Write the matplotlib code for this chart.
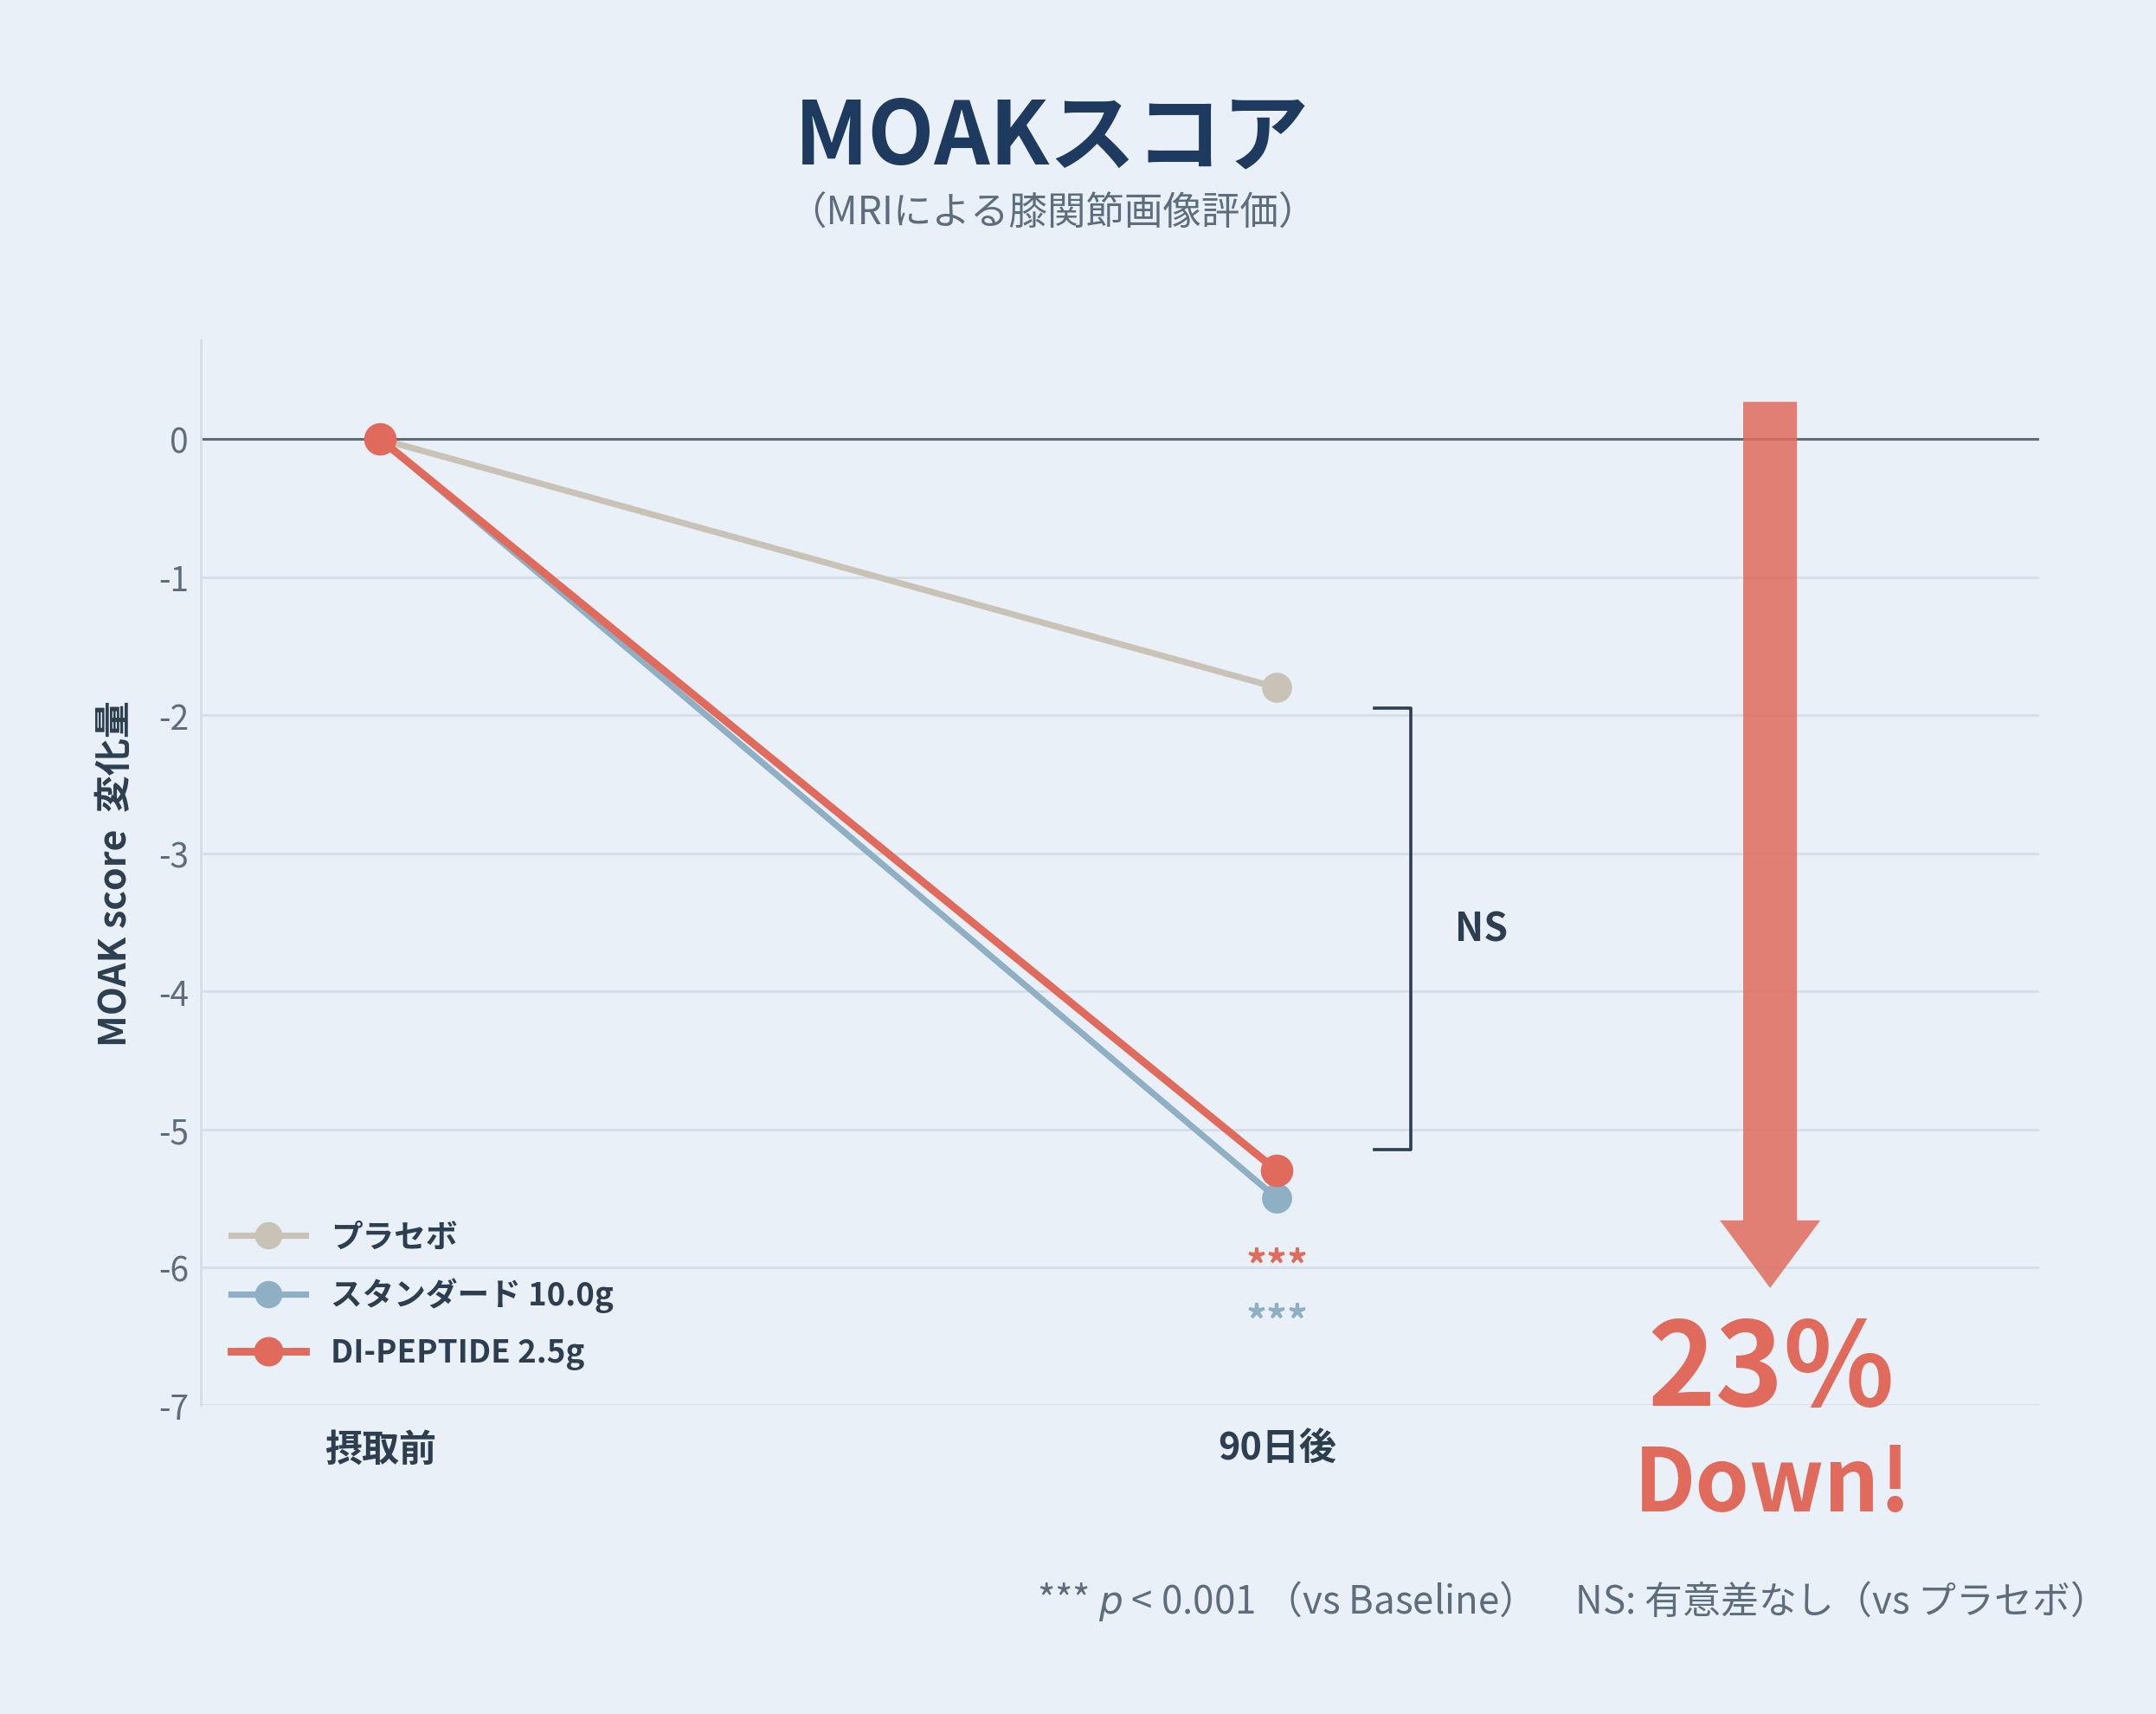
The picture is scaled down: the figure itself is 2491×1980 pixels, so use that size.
import matplotlib
matplotlib.use("Agg")
import matplotlib.pyplot as plt

plt.rcParams["font.family"] = ["Noto Sans CJK JP", "DejaVu Sans"]
plt.rcParams["mathtext.fontset"] = "dejavusans"

timepoints = ["摂取前", "90日後"]
groups = ["プラセボ", "スタンダード 10.0g", "DI-PEPTIDE 2.5g"]
placebo = [0, -1.8]
standard = [0, -5.5]
dipeptide = [0, -5.3]
reduction_pct = 23

BG = "#e9f0f7"
DARK = "#2c3e50"
GREY = "#5d6d7e"
GRID = "#d5dfe9"
C_PLA = "#c9c2b6"
C_STD = "#8fafc4"
C_DIP = "#e06b5d"

fig = plt.figure(figsize=(12.455, 9.905), dpi=200, facecolor=BG)
ax = fig.add_axes([0.0931, 0.180, 0.8527, 0.621], facecolor=BG)

x = list(range(len(timepoints)))
ax.plot(x, placebo, color=C_PLA, lw=2.6, marker="o", ms=11.5, label=groups[0], zorder=3)
ax.plot(x, standard, color=C_STD, lw=2.6, marker="o", ms=11.5, label=groups[1], zorder=4)
ax.plot(x, dipeptide, color=C_DIP, lw=3.2, marker="o", ms=12.5, label=groups[2], zorder=5)

ax.set_xlim(-0.2, 1.85)
ax.set_ylim(-7, 0.715)
ax.set_yticks(range(-7, 1))
ax.set_yticklabels([str(v) for v in range(-7, 1)])
ax.set_xticks(x)
ax.set_xticklabels(timepoints, fontsize=15.5, fontweight="bold", color=DARK)
ax.tick_params(axis="x", length=0, pad=10)
ax.tick_params(axis="y", length=0, pad=5, labelsize=14, labelcolor=GREY)
ax.grid(axis="y", color=GRID, lw=1.0)
ax.set_axisbelow(True)
for s in ["top", "right", "bottom"]:
    ax.spines[s].set_visible(False)
ax.spines["left"].set_color(GRID)
ax.spines["left"].set_linewidth(1.0)
ax.axhline(0, color="#5f6b76", lw=1.1, zorder=2)

ax.set_ylabel("MOAK score  変化量", fontsize=15.5, fontweight="bold", color=DARK)
ax.yaxis.set_label_coords(-0.036, 0.5)

# NS bracket between placebo and DI-PEPTIDE
top = placebo[1] - 0.15
bot = dipeptide[1] + 0.15
bx = 1.149
ax.plot([bx - 0.04, bx, bx, bx - 0.04], [top, top, bot, bot], color=DARK, lw=1.3, zorder=3)
ax.text(bx + 0.05, (top + bot) / 2, "NS", fontsize=16, fontweight="bold", color=DARK,
        ha="left", va="center")

# significance stars
ax.text(1, dipeptide[1] - 0.70, "***", fontsize=17, fontweight="bold", color=C_DIP,
        ha="center", va="center")
ax.text(1, standard[1] - 0.90, "***", fontsize=17, fontweight="bold", color=C_STD,
        ha="center", va="center")

# big arrow
ax.arrow(1.55, 0.27, 0, -6.42, width=0.06, head_width=0.112, head_length=0.49,
         length_includes_head=True, color=C_DIP, alpha=0.85, lw=0, zorder=6)
ax.text(1.551, -7.0, f"{reduction_pct}%", fontsize=48, fontweight="bold", color=C_DIP,
        ha="center", va="baseline", clip_on=False)
ax.text(1.553, -7.76, "Down!", fontsize=36, fontweight="bold", color=C_DIP,
        ha="center", va="baseline", clip_on=False)

leg = ax.legend(loc="center left", bbox_to_anchor=(0.0165, 0.103), frameon=False,
                borderaxespad=0, borderpad=0, handlelength=2.35, handletextpad=0.8,
                labelspacing=0.76, markerscale=0.9,
                prop={"size": 13.2, "weight": "bold"})
for t in leg.get_texts():
    t.set_color(DARK)

fig.text(0.488, 0.9046, "MOAKスコア", fontsize=36, fontweight="bold", color="#1e3a5f",
         ha="center", va="baseline")
fig.text(0.488, 0.876, "（MRIによる膝関節画像評価）", fontsize=16, color=GREY,
         ha="center", va="center")
fig.text(0.966, 0.059, "*** $p$ < 0.001 （vs Baseline）　NS: 有意差なし（vs プラセボ）",
         fontsize=15.8, color=GREY, ha="right", va="baseline")

fig.savefig("out.png", dpi=200, facecolor=BG)
